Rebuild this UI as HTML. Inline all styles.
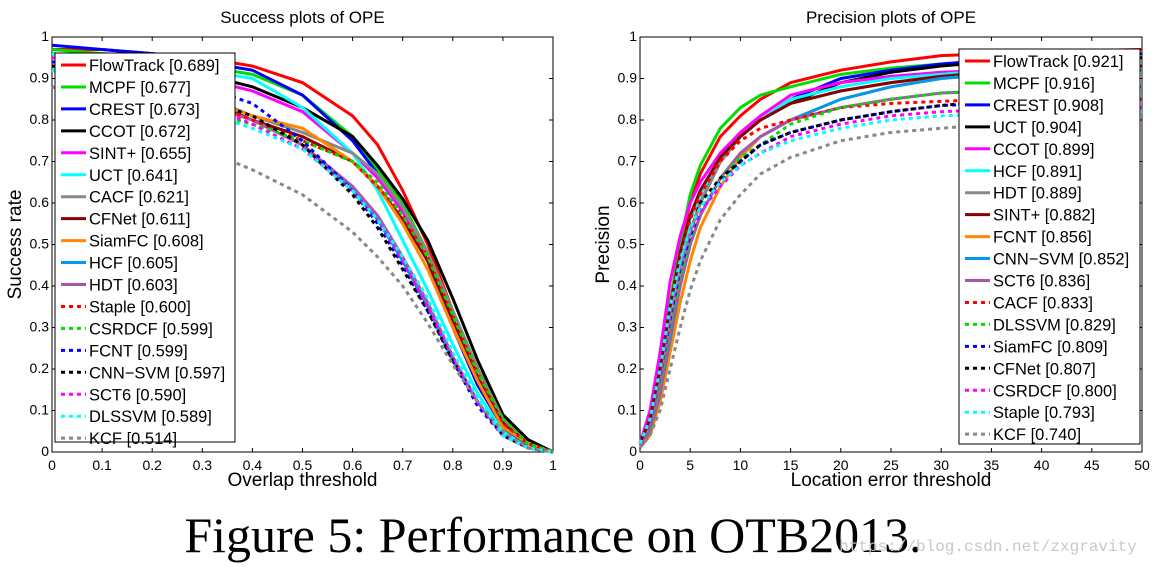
<!DOCTYPE html>
<html><head><meta charset="utf-8"><style>
body{margin:0;background:#fff;width:1155px;height:566px;overflow:hidden}
svg text{font-family:"Liberation Sans",sans-serif}
</style></head><body>
<svg id="s" width="1155" height="566">
<text x="553" y="552" font-size="50" text-anchor="middle" style="font-family:'Liberation Serif',serif">Figure 5: Performance on OTB2013.</text>
<text x="988" y="551" font-size="16" fill="#c8c8c8" text-anchor="middle" style="font-family:'Liberation Mono',monospace">https://blog.csdn.net/zxgravity</text>
</svg>
<script>
const leftX=[0,0.1,0.2,0.3,0.4,0.5,0.6,0.65,0.7,0.75,0.8,0.85,0.9,0.95,1];
const leftNames=["FlowTrack [0.689]","MCPF [0.677]","CREST [0.673]","CCOT [0.672]","SINT+ [0.655]","UCT [0.641]","CACF [0.621]","CFNet [0.611]","SiamFC [0.608]","HCF [0.605]","HDT [0.603]","Staple [0.600]","CSRDCF [0.599]","FCNT [0.599]","CNN−SVM [0.597]","SCT6 [0.590]","DLSSVM [0.589]","KCF [0.514]"];
const leftColors=["#f00","#0d0","#00f","#000","#f0f","#0ff","#888","#800","#f80","#09e","#a5a","#f00","#0d0","#00f","#000","#f0f","#0ff","#888"];
const leftDash=[0,0,0,0,0,0,0,0,0,0,0,1,1,1,1,1,1,1];
const leftVals=[
[0.97,0.97,0.96,0.95,0.93,0.89,0.81,0.74,0.63,0.5,0.34,0.2,0.08,0.02,0],
[0.97,0.96,0.95,0.93,0.91,0.86,0.76,0.68,0.6,0.48,0.34,0.2,0.09,0.03,0],
[0.98,0.97,0.96,0.94,0.92,0.86,0.75,0.67,0.58,0.46,0.3,0.16,0.06,0.01,0],
[0.96,0.95,0.93,0.91,0.88,0.83,0.76,0.69,0.61,0.51,0.37,0.22,0.09,0.03,0],
[0.95,0.94,0.92,0.9,0.87,0.82,0.72,0.66,0.58,0.46,0.32,0.18,0.07,0.02,0],
[0.96,0.95,0.94,0.92,0.9,0.83,0.72,0.63,0.51,0.39,0.26,0.14,0.05,0.01,0],
[0.94,0.93,0.9,0.86,0.81,0.77,0.72,0.67,0.59,0.48,0.34,0.2,0.08,0.02,0],
[0.93,0.92,0.89,0.85,0.8,0.76,0.7,0.64,0.56,0.46,0.32,0.18,0.07,0.02,0],
[0.93,0.92,0.89,0.85,0.81,0.78,0.7,0.64,0.55,0.44,0.3,0.17,0.06,0.02,0],
[0.93,0.92,0.89,0.84,0.8,0.74,0.63,0.56,0.46,0.35,0.22,0.12,0.04,0.01,0],
[0.92,0.91,0.88,0.84,0.8,0.74,0.64,0.57,0.47,0.36,0.23,0.12,0.04,0.01,0],
[0.93,0.92,0.89,0.85,0.8,0.75,0.7,0.64,0.57,0.47,0.33,0.19,0.07,0.02,0],
[0.92,0.9,0.86,0.82,0.79,0.75,0.7,0.65,0.57,0.47,0.33,0.19,0.08,0.02,0],
[0.94,0.93,0.91,0.88,0.84,0.75,0.63,0.55,0.45,0.34,0.22,0.11,0.04,0.01,0],
[0.93,0.92,0.89,0.85,0.81,0.74,0.62,0.54,0.44,0.34,0.22,0.12,0.04,0.01,0],
[0.92,0.91,0.88,0.84,0.79,0.73,0.63,0.56,0.46,0.35,0.23,0.12,0.04,0.01,0],
[0.92,0.9,0.87,0.82,0.78,0.73,0.63,0.56,0.47,0.37,0.24,0.13,0.04,0.01,0],
[0.88,0.84,0.78,0.73,0.68,0.62,0.53,0.47,0.4,0.31,0.21,0.12,0.05,0.01,0]];
const leftTicksX=["0","0.1","0.2","0.3","0.4","0.5","0.6","0.7","0.8","0.9","1"];
const leftTicksY=["0","0.1","0.2","0.3","0.4","0.5","0.6","0.7","0.8","0.9","1"];

const rightX=[0,1,2,3,4,5,6,8,10,12,15,20,25,30,35,40,50];
const rightNames=["FlowTrack [0.921]","MCPF [0.916]","CREST [0.908]","UCT [0.904]","CCOT [0.899]","HCF [0.891]","HDT [0.889]","SINT+ [0.882]","FCNT [0.856]","CNN−SVM [0.852]","SCT6 [0.836]","CACF [0.833]","DLSSVM [0.829]","SiamFC [0.809]","CFNet [0.807]","CSRDCF [0.800]","Staple [0.793]","KCF [0.740]"];
const rightColors=["#f00","#0d0","#00f","#000","#f0f","#0ff","#888","#800","#f80","#09e","#a5a","#f00","#0d0","#00f","#000","#f0f","#0ff","#888"];
const rightDash=[0,0,0,0,0,0,0,0,0,0,0,1,1,1,1,1,1,1];
const rightVals=[
[0.02,0.08,0.2,0.36,0.5,0.6,0.67,0.76,0.81,0.85,0.89,0.92,0.94,0.955,0.96,0.965,0.97],
[0.02,0.08,0.2,0.36,0.5,0.62,0.69,0.78,0.83,0.86,0.88,0.91,0.925,0.935,0.94,0.945,0.95],
[0.02,0.06,0.16,0.3,0.43,0.53,0.6,0.7,0.76,0.8,0.85,0.9,0.92,0.935,0.945,0.95,0.96],
[0.02,0.06,0.16,0.3,0.43,0.53,0.6,0.7,0.76,0.8,0.84,0.89,0.915,0.93,0.94,0.945,0.95],
[0.02,0.1,0.24,0.41,0.52,0.6,0.65,0.72,0.77,0.81,0.86,0.89,0.905,0.915,0.92,0.925,0.93],
[0.02,0.07,0.18,0.33,0.46,0.56,0.62,0.71,0.76,0.8,0.85,0.88,0.9,0.91,0.92,0.925,0.93],
[0.02,0.06,0.16,0.3,0.43,0.53,0.6,0.7,0.76,0.8,0.84,0.87,0.89,0.905,0.915,0.92,0.93],
[0.02,0.08,0.2,0.35,0.48,0.57,0.63,0.71,0.76,0.8,0.84,0.87,0.89,0.905,0.915,0.92,0.93],
[0.01,0.04,0.12,0.24,0.36,0.46,0.54,0.64,0.71,0.76,0.8,0.85,0.88,0.9,0.91,0.915,0.92],
[0.01,0.05,0.14,0.27,0.4,0.5,0.57,0.66,0.72,0.76,0.8,0.85,0.88,0.9,0.91,0.915,0.92],
[0.01,0.05,0.14,0.28,0.4,0.5,0.57,0.66,0.72,0.76,0.8,0.83,0.85,0.865,0.87,0.875,0.88],
[0.02,0.08,0.2,0.35,0.47,0.56,0.62,0.7,0.75,0.78,0.8,0.83,0.84,0.845,0.85,0.85,0.85],
[0.02,0.06,0.16,0.3,0.42,0.51,0.58,0.66,0.71,0.74,0.79,0.83,0.85,0.865,0.87,0.875,0.88],
[0.02,0.07,0.18,0.32,0.44,0.52,0.58,0.65,0.7,0.74,0.77,0.8,0.82,0.835,0.84,0.845,0.85],
[0.02,0.07,0.18,0.33,0.45,0.53,0.6,0.66,0.7,0.74,0.77,0.8,0.82,0.835,0.845,0.85,0.85],
[0.02,0.07,0.18,0.33,0.45,0.53,0.58,0.64,0.69,0.72,0.76,0.79,0.81,0.82,0.825,0.83,0.83],
[0.02,0.08,0.2,0.35,0.46,0.54,0.59,0.65,0.69,0.72,0.75,0.78,0.8,0.81,0.815,0.82,0.82],
[0.01,0.04,0.1,0.2,0.3,0.39,0.46,0.56,0.62,0.67,0.71,0.75,0.77,0.78,0.79,0.79,0.8]];
const rightTicksX=["0","5","10","15","20","25","30","35","40","45","50"];
const rightTicksY=["0","0.1","0.2","0.3","0.4","0.5","0.6","0.7","0.8","0.9","1"];

const NS="http://www.w3.org/2000/svg",S=document.getElementById('s');
function mk(t,a,p){const e=document.createElementNS(NS,t);for(const k in a)e.setAttribute(k,a[k]);(p||S).appendChild(e);return e;}
function chart(o){
  const g=mk('g',{});
  
  
  const sx=v=>o.x0+(v-o.xmin)/(o.xmax-o.xmin)*(o.x1-o.x0), sy=v=>o.y1-v*(o.y1-o.y0);
  mk('rect',{x:o.x0,y:o.y0,width:o.x1-o.x0,height:o.y1-o.y0,fill:'#fff',stroke:'#000','stroke-width':1},g);
  o.tx.forEach((t,i)=>{const v=o.xmin+i*(o.xmax-o.xmin)/(o.tx.length-1),x=sx(v);
    mk('line',{x1:x,x2:x,y1:o.y1,y2:o.y1-4,stroke:'#000'},g);mk('line',{x1:x,x2:x,y1:o.y0,y2:o.y0+4,stroke:'#000'},g);
    const e=mk('text',{x:x,y:o.y1+18,'font-size':14,'text-anchor':'middle'},g);e.textContent=t;
    
    });
  o.ty.forEach((t,i)=>{const y=sy(i/(o.ty.length-1));
    mk('line',{x1:o.x0,x2:o.x0+4,y1:y,y2:y,stroke:'#000'},g);mk('line',{x1:o.x1,x2:o.x1-4,y1:y,y2:y,stroke:'#000'},g);
    const e=mk('text',{x:o.x0-3,y:y+4,'font-size':14,'text-anchor':'end'},g);e.textContent=t;
    
    });
  o.vals.forEach((vs,i)=>{const p=mk('polyline',{points:vs.map((v,j)=>sx(o.xs[j])+','+sy(v)).join(' '),fill:'none',stroke:o.cols[i],'stroke-width':3,'stroke-dasharray':o.dash[i]?'4,4':'none'},g);
    
    });
  let e=mk('text',{x:(o.x0+o.x1)/2,y:23,'font-size':17,'text-anchor':'middle'},g);e.textContent=o.title;
  
  
  e=mk('text',{x:(o.x0+o.x1)/2,y:486,'font-size':19,'text-anchor':'middle'},g);e.textContent=o.xl;
  
  
  e=mk('text',{x:0,y:0,'font-size':19,'text-anchor':'middle',transform:`translate(${o.x0-31},${(o.y0+o.y1)/2}) rotate(-90)`},g);e.textContent=o.yl;
  
  
  const L=mk('g',{},g);
  
  
  mk('rect',{x:o.lx,y:o.ly,width:o.lw,height:o.lh,fill:'#fff',stroke:'#000'},L);
  o.names.forEach((n,i)=>{const y=o.ly+12+i*21.95;
    const en=mk('g',{},L);
    
    
    mk('line',{x1:o.lx+6,x2:o.lx+31,y1:y,y2:y,stroke:o.cols[i],'stroke-width':3,'stroke-dasharray':o.dash[i]?'4,4':'none'},en);
    const t=mk('text',{x:o.lx+34,y:y+6,'font-size':16.5},en);t.textContent=n;});
}
chart({id:'success',x0:52,x1:553,y0:37,y1:452,xmin:0,xmax:1,xs:leftX,vals:leftVals,cols:leftColors,dash:leftDash,names:leftNames,tx:leftTicksX,ty:leftTicksY,title:'Success plots of OPE',xl:'Overlap threshold',yl:'Success rate',lx:55,ly:53,lw:180,lh:389});
chart({id:'precision',x0:640,x1:1142,y0:37,y1:452,xmin:0,xmax:50,xs:rightX,vals:rightVals,cols:rightColors,dash:rightDash,names:rightNames,tx:rightTicksX,ty:rightTicksY,title:'Precision plots of OPE',xl:'Location error threshold',yl:'Precision',lx:959,ly:49,lw:181,lh:395});
</script>
</body></html>
